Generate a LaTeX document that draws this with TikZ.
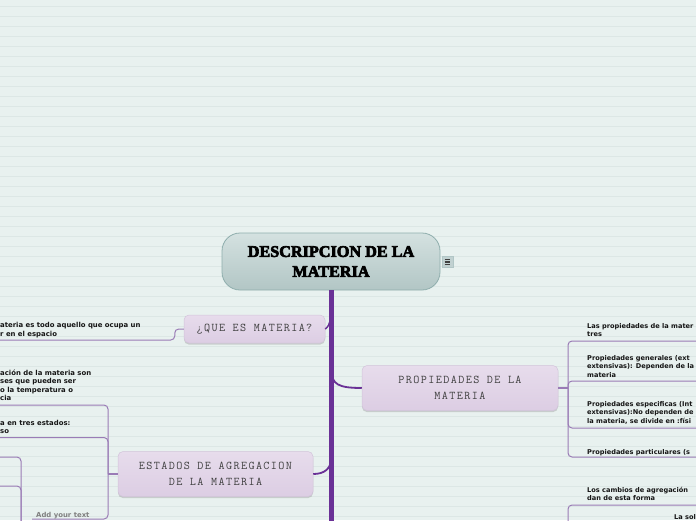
\documentclass[tikz,border=0pt]{standalone}
\usepackage{fontspec}
\newfontfamily\itemfont{DejaVu Sans}
\newfontfamily\monofont{Latin Modern Mono}[LetterSpace=12]
\newfontfamily\titlefont{Liberation Serif}[FakeBold=4]
\usetikzlibrary{shadows}
\definecolor{bg}{HTML}{E8F1EF}
\definecolor{bgline}{HTML}{DCE7E5}
\definecolor{trunkc}{HTML}{6A3196}
\definecolor{thinc}{HTML}{9A7CB6}
\definecolor{lavtop}{HTML}{E7DCEC}
\definecolor{lavbot}{HTML}{DCCDE3}
\definecolor{lavedge}{HTML}{D2C4DA}
\definecolor{roottop}{HTML}{D4E1E0}
\definecolor{rootbot}{HTML}{B2C6C5}
\definecolor{rootedge}{HTML}{8FAEAD}
\definecolor{itemc}{HTML}{151515}
\definecolor{monoc}{HTML}{404040}
\tikzset{
  rootbox/.style={rounded corners=18pt, minimum width=218pt, minimum height=57pt,
    top color=roottop, bottom color=rootbot, draw=rootedge, line width=0.8pt,
    align=center, inner sep=0pt,
    font=\titlefont\bfseries\fontsize{16.2}{20}\selectfont, text=black},
  lavbox/.style={rounded corners=5pt, top color=lavtop, bottom color=lavbot,
    draw=lavedge, line width=0.5pt, align=center, inner sep=0pt,
    drop shadow={shadow xshift=0pt, shadow yshift=-1.6pt, opacity=0.35, fill=black!45},
    font=\monofont\fontsize{11.8}{16}\selectfont, text=monoc},
  itemtext/.style={anchor=base west, align=left, inner sep=0pt,
    font=\itemfont\bfseries\fontsize{6.9}{8.5}\selectfont, text=itemc},
  rightitem/.style={itemtext, font=\itemfont\bfseries\fontsize{6.6}{8.5}\selectfont},
  trunkline/.style={draw=trunkc, line width=4.5pt},
  branchline/.style={draw=trunkc, line width=1.8pt},
  thinline/.style={draw=thinc, line width=1pt, rounded corners=4pt},
}
\begin{document}
\begin{tikzpicture}[x=1pt,y=-1pt]
\useasboundingbox (0,0) rectangle (696,520);
\clip (0,0) rectangle (696,520);
\fill[bg] (0,0) rectangle (696,520);
\foreach \k in {0,...,51} \draw[bgline, line width=0.7pt] (0,6+10*\k) -- (696,6+10*\k);

% trunk
\coordinate (trunkend) at (331.5,522);
\coordinate (qj) at (330.5,317);
\coordinate (pj) at (331.5,371);
\coordinate (ej) at (331.5,458);

% main nodes
\node[lavbox, minimum width=141pt, minimum height=28pt] (que) at (254.5,329) {¿QUE ES MATERIA?};
\node[lavbox, minimum width=196pt, minimum height=45pt] (prop) at (460,388) {PROPIEDADES DE LA\\MATERIA};
\node[lavbox, minimum width=195pt, minimum height=45pt] (est) at (215.5,474) {ESTADOS DE AGREGACION\\DE LA MATERIA};

\node[rootbox] (root) at (331,261.5) {DESCRIPCION DE LA\\MATERIA};
\node[draw=rootedge!70, fill=rootbot!80, minimum width=11pt, minimum height=11pt, inner sep=0pt] (menu) at (447.5,262) {};
\draw[black!75, line width=1.1pt] ([xshift=-2.8pt,yshift=2.4pt]menu.center) -- ++(5.6pt,0)
  ([xshift=-2.8pt]menu.center) -- ++(5.6pt,0)
  ([xshift=-2.8pt,yshift=-2.4pt]menu.center) -- ++(5.6pt,0);

\draw[trunkline] (root.south -| trunkend) -- (trunkend);
\draw[draw=trunkc, line width=1.5pt] (qj) .. controls (330,324) and (328,327) .. (que.east);
\draw[branchline] (pj) .. controls (332,384) and (338,388) .. (prop.west);
\draw[branchline] (ej) .. controls (331,469) and (324,474) .. (est.east);

% left of QUE (anchor = baseline of last line)
\node[itemtext] (qt) at (0,336) {ateria es todo aquello que ocupa un\\r en el espacio};
\coordinate (qu) at (0,340);
\draw[thinline] (que.west) -- ++(-9pt,0) |- (qu);

% right of PROPIEDADES
\coordinate (ps) at (568,388);
\coordinate (r1) at (700,341);
\coordinate (r2) at (700,381);
\coordinate (r3) at (700,428);
\coordinate (r4) at (700,457);
\draw[thinc, line width=1.3pt] (prop.east) -- (ps);
\draw[thinline] (ps) |- (r1);
\draw[thinline] (ps) |- (r2);
\draw[thinline] (ps) |- (r3);
\draw[thinline] (ps) |- (r4);
\node[rightitem] (pt1) at (587,336.5) {Las propiedades de la mater\\tres};
\node[rightitem] (pt2) at (587,377) {Propiedades generales (ext\\extensivas): Dependen de la\\materia};
\node[rightitem] (pt3) at (587,423) {Propiedades especificas (Int\\extensivas):No dependen de\\la materia, se divide en :físi};
\node[rightitem] (pt4) at (587,454) {Propiedades particulares (s};

% second right group
\coordinate (ps2) at (568,530);
\coordinate (r5) at (700,505);
\draw[thinline] (ps2) |- (r5);
\node[rightitem] (pt5) at (587,500.5) {Los cambios de agregación\\dan de esta forma};
\node[rightitem] (pt6) at (674,519) {La sol};

% left of ESTADOS
\coordinate (es) at (108,474);
\coordinate (l1) at (-4,405);
\coordinate (l2) at (-4,437.5);
\coordinate (l3) at (32,519);
\draw[thinc, line width=1.3pt] (est.west) -- (es);
\draw[thinline] (es) |- (l1);
\draw[thinline] (es) |- (l2);
\draw[thinline] (es) |- (l3);
\node[itemtext] (et1) at (0,400.5) {ación de la materia son\\ses que pueden ser\\o la temperatura o\\cia};
\node[itemtext] (et2) at (0,433.5) {a en tres estados:\\so};
\node[itemtext, text=black!50] (eadd) at (36,517) {Add your text};

% sub-children
\coordinate (ss) at (21,530);
\coordinate (s1) at (-4,457);
\coordinate (s2) at (-4,486);
\draw[thinline] (ss) |- (s1);
\draw[thinline] (ss) |- (s2);
\end{tikzpicture}
\end{document}
